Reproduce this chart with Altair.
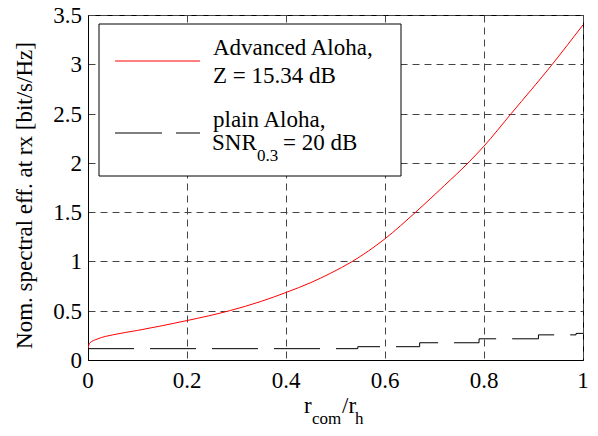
import altair as alt
import pandas as pd

# ---- data ----
adv_x = [0, 0.003, 0.02, 0.05, 0.1, 0.15, 0.2, 0.286, 0.35, 0.4, 0.45, 0.49,
         0.534, 0.6, 0.662, 0.72, 0.77, 0.8, 0.855, 0.938, 1.0]
adv_y = [0.11, 0.17, 0.215, 0.255, 0.30, 0.348, 0.40, 0.5, 0.595, 0.685, 0.785, 0.88,
         1.0, 1.23, 1.5, 1.77, 2.01, 2.17, 2.5, 3.0, 3.4]

plain_x = [0, 0.545, 0.67, 0.79, 0.91, 0.986, 1.0]
plain_y = [0.115, 0.135, 0.175, 0.215, 0.255, 0.27, 0.27]

x_ticks = [0, 0.2, 0.4, 0.6, 0.8, 1]
x_tick_labels = ["0", "0.2", "0.4", "0.6", "0.8", "1"]
y_ticks = [0, 0.5, 1, 1.5, 2, 2.5, 3, 3.5]
y_tick_labels = ["0", "0.5", "1", "1.5", "2", "2.5", "3", "3.5"]

FONT = "Liberation Serif"
FS = 23
SUB = 17

adv = pd.DataFrame({"x": adv_x, "y": adv_y})
plain = pd.DataFrame({"x": plain_x, "y": plain_y})
xt = pd.DataFrame({"v": x_ticks, "t": x_tick_labels})
yt = pd.DataFrame({"v": y_ticks, "t": y_tick_labels})

xscale = alt.Scale(domain=[0, 1], nice=False)
yscale = alt.Scale(domain=[0, 3.5], nice=False)

xaxis = alt.Axis(values=x_ticks, labels=False, title=None)
yaxis = alt.Axis(values=y_ticks, labels=False,
                 title="Nom. spectral eff. at rx [bit/s/Hz]",
                 titleAngle=270, titleX=-64, titleY=180,
                 titleAlign="center", titleBaseline="middle")

red = alt.Chart(adv).mark_line(color="#ff0000", strokeWidth=1, clip=True,
                               interpolate="monotone").encode(
    x=alt.X("x:Q", scale=xscale, axis=xaxis),
    y=alt.Y("y:Q", scale=yscale, axis=yaxis),
)
black = alt.Chart(plain).mark_line(color="black", strokeWidth=1,
                                   interpolate="step-after",
                                   strokeDash=[46, 16], clip=True).encode(
    x=alt.X("x:Q", scale=xscale, axis=xaxis),
    y=alt.Y("y:Q", scale=yscale, axis=yaxis),
)

xlabels = alt.Chart(xt).mark_text(font=FONT, fontSize=FS, align="center",
                                  baseline="alphabetic", color="black").encode(
    x=alt.X("v:Q", scale=xscale, axis=xaxis), y=alt.value(373), text="t:N")
ylabels = alt.Chart(yt).mark_text(font=FONT, fontSize=FS, align="right",
                                  baseline="middle", color="black", dy=1).encode(
    x=alt.value(-6), y=alt.Y("v:Q", scale=yscale, axis=yaxis), text="t:N")

one = alt.Data(values=[{"a": 1}])


def txt(s, x, y, size=FS):
    return alt.Chart(one).mark_text(text=s, font=FONT, fontSize=size,
                                    align="left", baseline="alphabetic",
                                    color="black").encode(
        x=alt.value(x), y=alt.value(y))


legend_box = alt.Chart(one).mark_rect(fill="white", stroke="black",
                                      strokeWidth=1).encode(
    x=alt.value(11), x2=alt.value(313), y=alt.value(9), y2=alt.value(161))
leg_red = alt.Chart(one).mark_rule(color="#ff0000", strokeWidth=1).encode(
    x=alt.value(27), x2=alt.value(112), y=alt.value(46))
leg_black = alt.Chart(one).mark_rule(color="black", strokeWidth=1,
                                     strokeDash=[47, 14]).encode(
    x=alt.value(27), x2=alt.value(112), y=alt.value(118))

texts = [
    txt("Advanced Aloha,", 125, 40),
    txt("Z = 15.34 dB", 125, 68),
    txt("plain Aloha,", 125, 112),
    txt("SNR", 124, 135),
    txt("0.3", 169, 146, SUB),
    txt("= 20 dB", 195, 135),
    # x-axis title r_com / r_h
    txt("r", 216, 398),
    txt("com", 224, 409, SUB),
    txt("/r", 254, 398),
    txt("h", 267, 409, SUB),
]

chart = alt.layer(red, black, xlabels, ylabels, legend_box, leg_red, leg_black,
                  *texts).properties(
    width=495, height=345,
    autosize=alt.AutoSizeParams(type="none"),
    padding={"left": 80, "top": 7, "right": 7, "bottom": 68},
).configure(
    background="white", font=FONT
).configure_view(stroke="black", strokeWidth=1).configure_axis(
    titleFont=FONT, titleFontSize=FS, titleFontWeight="normal", titleColor="black",
    grid=True, ticks=False, tickSize=0, domainColor="black",
    gridColor="#444", gridDash=[7, 5], gridOpacity=1, gridWidth=1,
)

chart.save("out.html", embed_options={"renderer": "svg", "actions": False})
